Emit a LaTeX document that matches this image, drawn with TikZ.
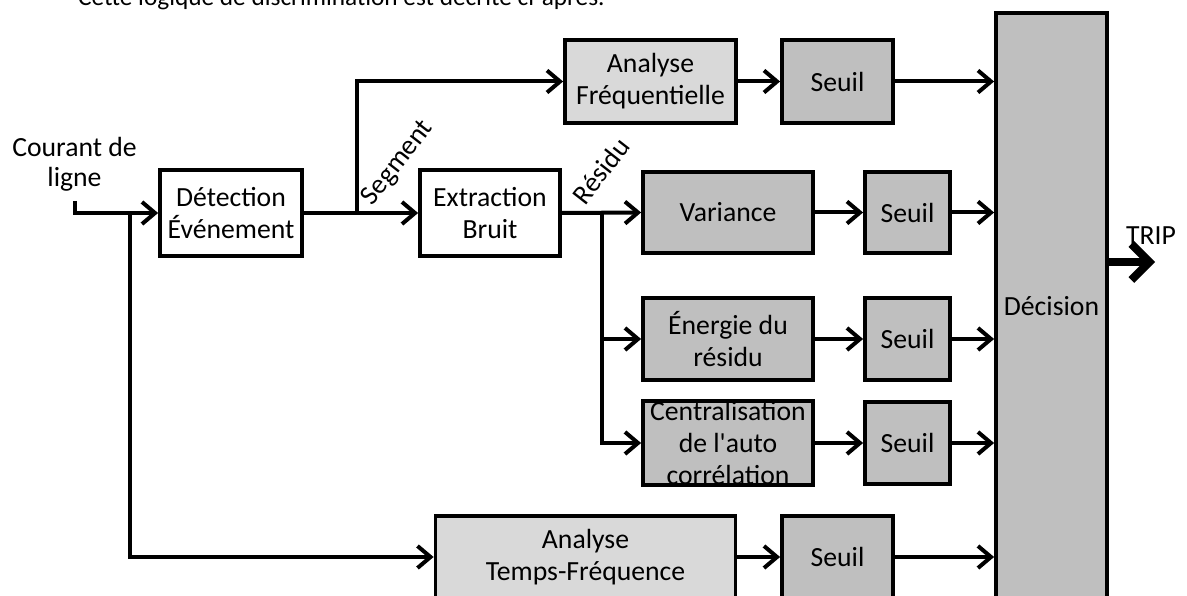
\documentclass[tikz,border=0pt]{standalone}
\usepackage{fontspec}
\setmainfont{Carlito}
\usetikzlibrary{arrows.meta}
\definecolor{lightg}{HTML}{D9D9D9}
\definecolor{darkg}{HTML}{BFBFBF}
\begin{document}
\begin{tikzpicture}[x=1pt,y=-1pt,
  box/.style={draw, line width=3.8pt, inner sep=0pt, align=center,
    font=\fontsize{27.7}{32}\selectfont},
  whitebox/.style={box, fill=white},
  lightbox/.style={box, fill=lightg},
  darkbox/.style={box, fill=darkg},
  arr/.style={line width=4pt, -{Straight Barb[length=13pt,width=22pt]}},
  trip/.style={line width=8pt, -{Straight Barb[length=18pt,width=36pt]}},
  lbl/.style={inner sep=0pt, font=\fontsize{27.7}{30}\selectfont, align=center}]
\useasboundingbox (0,0) rectangle (1187,596);
\clip (0,0) rectangle (1187,596);
\fill[white] (0,0) rectangle (1187,596);

% partial sentence at the top
\node[anchor=base west, inner sep=0pt, font=\fontsize{25.3}{30}\selectfont] (top) at (78,6)
  {Cette logique de discrimination est décrite ci-après.};

% boxes
\node[whitebox, minimum width=142pt, minimum height=86pt] (det) at (231,213) {Détection\\Événement};
\node[whitebox, minimum width=140pt, minimum height=86pt] (ext) at (490,213) {Extraction\\Bruit};
\node[lightbox, minimum width=171pt, minimum height=83pt] (af) at (650.5,81.5) {Analyse\\Fréquentielle};
\node[darkbox, minimum width=111pt, minimum height=83pt] (s1) at (837.5,81.5) {Seuil};
\node[darkbox, minimum width=170pt, minimum height=81pt] (var) at (728,212.5) {Variance};
\node[darkbox, minimum width=85pt, minimum height=81pt] (s2) at (907.5,212.5) {Seuil};
\node[darkbox, minimum width=170pt, minimum height=82pt] (en) at (728,339) {Énergie du\\résidu};
\node[darkbox, minimum width=85pt, minimum height=82pt] (s3) at (907.5,339) {Seuil};
\node[darkbox, minimum width=170pt, minimum height=82pt] (ce) at (728,443) {Centralisation\\de l\textquotesingle auto\\corrélation};
\draw[line width=3.8pt] ([xshift=1.9pt,yshift=1.9pt]ce.south west) rectangle ([xshift=-1.9pt,yshift=-1.9pt]ce.north east);
\node[darkbox, minimum width=85pt, minimum height=82pt] (s4) at (907.5,443) {Seuil};
\node[lightbox, minimum width=300pt, minimum height=82pt] (tf) at (585.5,557) {Analyse\\Temps-Fréquence};
\node[darkbox, minimum width=111pt, minimum height=82pt] (s5) at (837.5,557) {Seuil};
\node[darkbox, minimum width=111pt, minimum height=586pt] (dec) at (1051.5,306) {Décision};

% labels
\node[lbl] (inlbl) at (74.5,164) {Courant de\\ligne};
\node[lbl, rotate=52] (seg) at (398,163) {Segment};
\node[lbl, rotate=52] (res) at (601,171) {Résidu};
\node[lbl] (triplbl) at (1151,236) {TRIP};

% connector points
\coordinate (in) at (75,201);
\coordinate (j1) at (130,213);
\coordinate (j2) at (357,213);
\coordinate (j3) at (602,213);
\coordinate (tripend) at (1155,262);

% connectors
\draw[arr] (in) |- (det.west);
\draw[arr] (j1) |- (tf.west);
\draw[arr] (det.east) -- (ext.west);
\draw[arr] (j2) |- (af.west);
\draw[arr] (af.east) -- (s1.west);
\draw[arr] (s1.east) -- (s1.east -| dec.west);
\draw[arr] (ext.east) -- (var.west);
\draw[arr] (j3) |- (en.west);
\draw[arr] (j3) |- (ce.west);
\draw[arr] (var.east) -- (s2.west);
\draw[arr] (s2.east) -- (s2.east -| dec.west);
\draw[arr] (en.east) -- (s3.west);
\draw[arr] (s3.east) -- (s3.east -| dec.west);
\draw[arr] (ce.east) -- (s4.west);
\draw[arr] (s4.east) -- (s4.east -| dec.west);
\draw[arr] (tf.east) -- (s5.west);
\draw[arr] (s5.east) -- (s5.east -| dec.west);
\draw[trip] (dec.east |- tripend) -- (tripend);
\end{tikzpicture}
\end{document}
